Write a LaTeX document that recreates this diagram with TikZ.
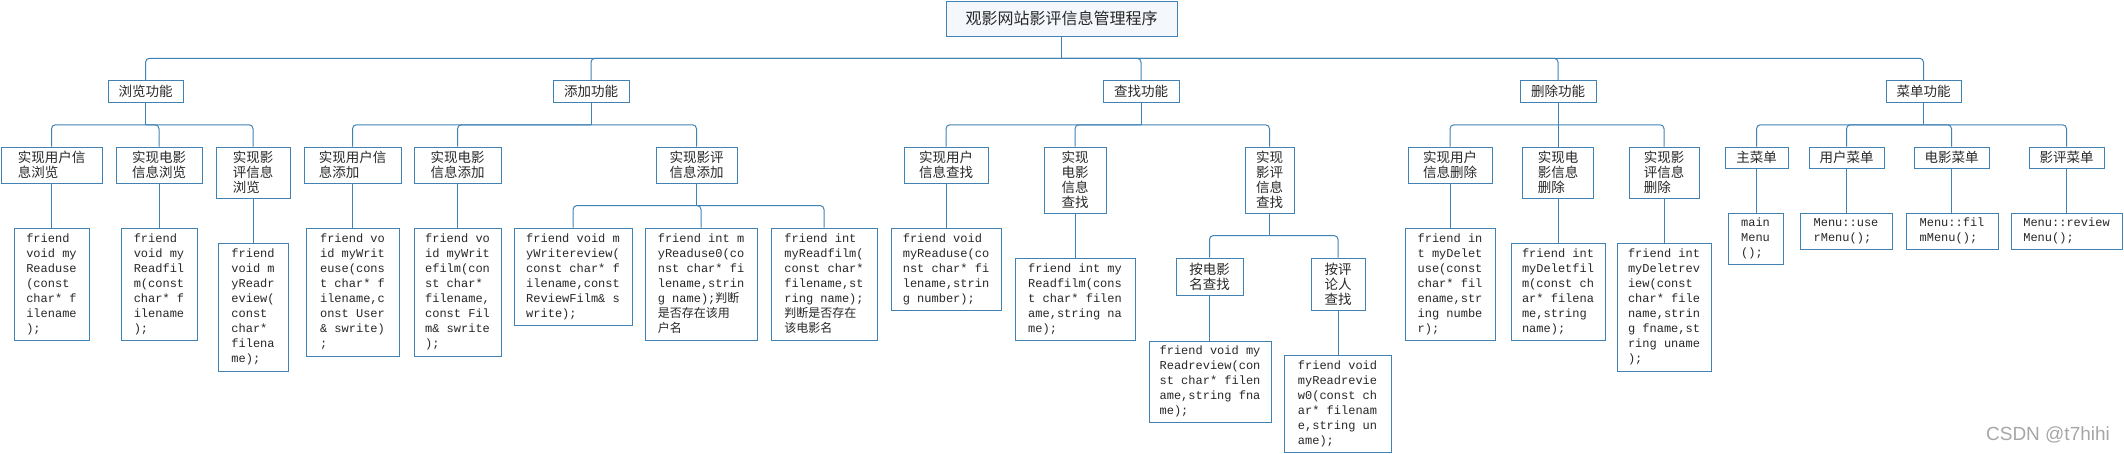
\documentclass[tikz,border=0pt]{standalone}
\usepackage{fontspec}
\setmainfont{Noto Sans CJK SC}
\setmonofont{Liberation Mono}
\newfontfamily\marksans{Liberation Sans}
\usetikzlibrary{calc}
\definecolor{lineblue}{RGB}{65,130,180}
\definecolor{textgray}{RGB}{40,40,40}
\definecolor{rootfill}{RGB}{244,247,252}
\tikzset{
  box/.style={draw=lineblue, line width=1pt, fill=white, inner sep=2pt,
    align=left, text=textgray, font=\fontsize{13.5}{15}\selectfont},
  codebox/.style={box, font=\ttfamily\fontsize{12}{15}\selectfont},
  boxsize/.style 2 args={minimum width=#1pt, minimum height=#2pt},
  link/.style={draw=lineblue, line width=1pt},
  elbow/.style={link, rounded corners=4pt}
}
\begin{document}
\begin{tikzpicture}[x=1pt, y=-1pt]
  \useasboundingbox (0,0) rectangle (2124,453);
  % top
  \node[box, fill=rootfill, boxsize={231}{35}, font=\fontsize{16}{18}\selectfont]
    (root) at (1061.5,18.5) {观影网站影评信息管理程序};
  % first level
  \node[box, boxsize={75}{22}] (browse) at (145.5,91.5) {浏览功能};
  \node[box, boxsize={76}{22}] (add) at (591,91.5) {添加功能};
  \node[box, boxsize={76}{22}] (find) at (1141,91.5) {查找功能};
  \node[box, boxsize={76}{22}] (del) at (1558,91.5) {删除功能};
  \node[box, boxsize={75}{22}] (menu) at (1923.5,91.5) {菜单功能};
  % browse
  \node[box, boxsize={101}{36}] (bu) at (51.5,165) {实现用户信\\息浏览};
  \node[box, boxsize={86}{36}] (bf) at (159,165) {实现电影\\信息浏览};
  \node[box, boxsize={74}{51}] (br) at (253,172.5) {实现影\\评信息\\浏览};
  \node[codebox, boxsize={75}{112}] (cbu) at (51.5,284)
    {friend\\void my\\Readuse\\(const\\char* f\\ilename\\);};
  \node[codebox, boxsize={76}{112}] (cbf) at (159,284)
    {friend\\void my\\Readfil\\m(const\\char* f\\ilename\\);};
  \node[codebox, boxsize={70}{128}] (cbr) at (253,307)
    {friend\\void m\\yReadr\\eview(\\const\\char*\\filena\\me);};
  % add
  \node[box, boxsize={97}{36}] (au) at (352.5,165) {实现用户信\\息添加};
  \node[box, boxsize={87}{36}] (af) at (457.5,165) {实现电影\\信息添加};
  \node[box, boxsize={81}{36}] (ar) at (696.5,165) {实现影评\\信息添加};
  \node[codebox, boxsize={93}{128}] (cau) at (352.5,292)
    {friend vo\\id myWrit\\euse(cons\\t char* f\\ilename,c\\onst User\\\& swrite)\\;};
  \node[codebox, boxsize={87}{128}] (caf) at (457.5,292)
    {friend vo\\id myWrit\\efilm(con\\st char*\\filename,\\const Fil\\m\& swrite\\);};
  \node[codebox, boxsize={118}{97}] (car) at (573,276.5)
    {friend void m\\yWritereview(\\const char* f\\ilename,const\\ReviewFilm\& s\\write);};
  \node[codebox, boxsize={112}{112}] (cru) at (701,284)
    {friend int m\\yReaduse0(co\\nst char* fi\\lename,strin\\g name);{\rmfamily 判断}\\{\rmfamily 是否存在该用}\\{\rmfamily 户名}};
  \node[codebox, boxsize={106}{112}] (crf) at (824,284)
    {friend int\\myReadfilm(\\const char*\\filename,st\\ring name);\\{\rmfamily 判断是否存在}\\{\rmfamily 该电影名}};
  % find
  \node[box, boxsize={84}{36}] (fu) at (946,165) {实现用户\\信息查找};
  \node[box, boxsize={62}{66}] (ff) at (1075,180) {实现\\电影\\信息\\查找};
  \node[box, boxsize={49}{66}] (fr) at (1269.5,180) {实现\\影评\\信息\\查找};
  \node[codebox, boxsize={110}{82}] (cfu) at (946,269)
    {friend void\\myReaduse(co\\nst char* fi\\lename,strin\\g number);};
  \node[codebox, boxsize={120}{82}] (cff) at (1075,299)
    {friend int my\\Readfilm(cons\\t char* filen\\ame,string na\\me);};
  \node[box, boxsize={67}{37}] (fn) at (1209.5,276.5) {按电影\\名查找};
  \node[box, boxsize={54}{52}] (fp) at (1338,284) {按评\\论人\\查找};
  \node[codebox, boxsize={122}{81}] (cfn) at (1210,381.5)
    {friend void my\\Readreview(con\\st char* filen\\ame,string fna\\me);};
  \node[codebox, boxsize={107}{97}] (cfp) at (1337.5,403.5)
    {friend void\\myReadrevie\\w0(const ch\\ar* filenam\\e,string un\\ame);};
  % delete
  \node[box, boxsize={84}{36}] (du) at (1450,165) {实现用户\\信息删除};
  \node[box, boxsize={71}{51}] (df) at (1558,172.5) {实现电\\影信息\\删除};
  \node[box, boxsize={70}{51}] (dr) at (1664,172.5) {实现影\\评信息\\删除};
  \node[codebox, boxsize={90}{112}] (cdu) at (1450,284)
    {friend in\\t myDelet\\use(const\\char* fil\\ename,str\\ing numbe\\r);};
  \node[codebox, boxsize={94}{97}] (cdf) at (1558,291.5)
    {friend int\\myDeletfil\\m(const ch\\ar* filena\\me,string\\name);};
  \node[codebox, boxsize={94}{128}] (cdr) at (1664,307)
    {friend int\\myDeletrev\\iew(const\\char* file\\name,strin\\g fname,st\\ring uname\\);};
  % menu
  \node[box, boxsize={63}{21}] (mm) at (1756.5,157.5) {主菜单};
  \node[box, boxsize={75}{21}] (mu) at (1846.5,157.5) {用户菜单};
  \node[box, boxsize={75}{21}] (mf) at (1951.5,157.5) {电影菜单};
  \node[box, boxsize={75}{21}] (mr) at (2066.5,157.5) {影评菜单};
  \node[codebox, boxsize={55}{51}] (cmm) at (1755.5,238.5) {main\\Menu\\();};
  \node[codebox, boxsize={92}{36}] (cmu) at (1846,231) {Menu::use\\rMenu();};
  \node[codebox, boxsize={92}{36}] (cmf) at (1952,231) {Menu::fil\\mMenu();};
  \node[codebox, boxsize={111}{36}] (cmr) at (2066.5,231) {Menu::review\\Menu();};
  % buses
  \foreach \p/\c in {root/browse, root/add, root/find, root/del, root/menu,
      browse/bu, browse/bf, browse/br, add/au, add/af, add/ar,
      find/fu, find/ff, find/fr, del/du, del/df, del/dr,
      menu/mm, menu/mu, menu/mf, menu/mr,
      ar/car, ar/cru, ar/crf, fr/fn, fr/fp}{
    \draw[link] (\p.south) -- ($(\p.south)!.5!(\p.south |- \c.north)$);
    \draw[elbow] ($(\p.south)!.5!(\p.south |- \c.north)$) -| (\c.north);
  }
  % straight links
  \foreach \p/\c in {bu/cbu, bf/cbf, br/cbr, au/cau, af/caf, fu/cfu, ff/cff,
      fn/cfn, fp/cfp, du/cdu, df/cdf, dr/cdr, mm/cmm, mu/cmu, mf/cmf, mr/cmr}
    \draw[link] (\p.south) -- (\p.south |- \c.north);
  \node[text=black!35, font=\marksans\fontsize{19}{19}\selectfont] (mark) at (2048,435) {CSDN @t7hihi};
\end{tikzpicture}
\end{document}
